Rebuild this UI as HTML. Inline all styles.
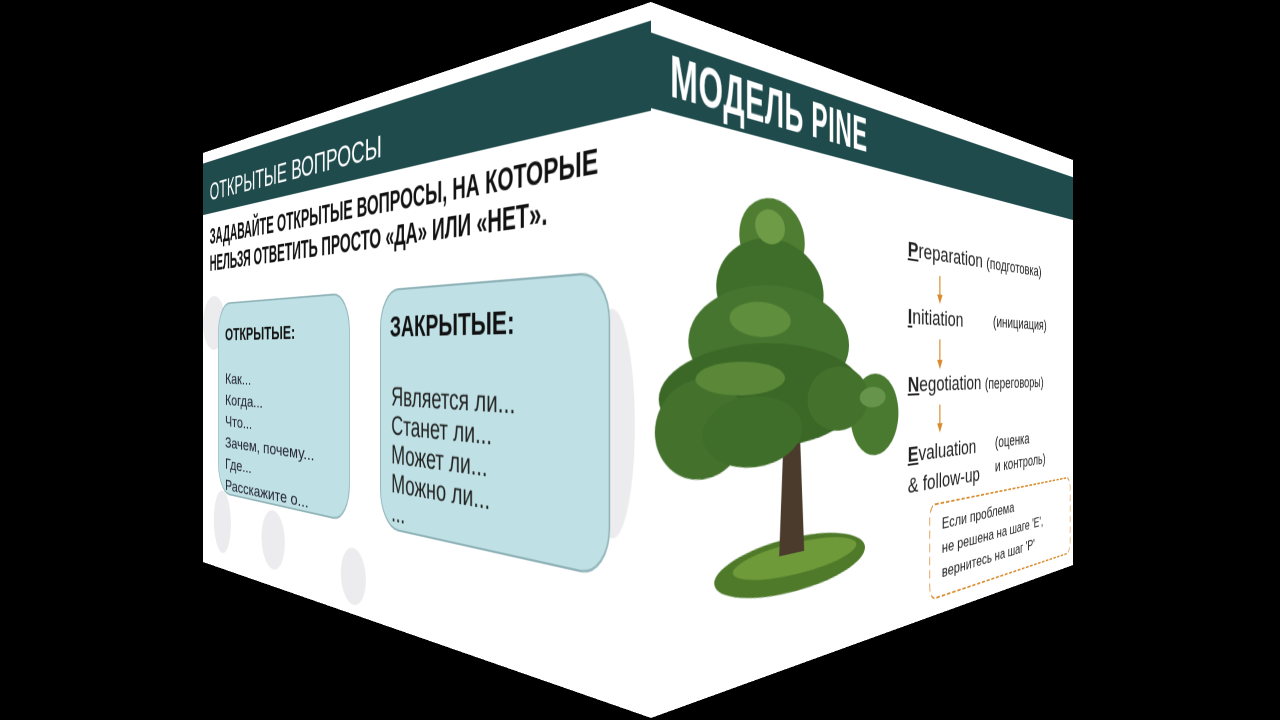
<!DOCTYPE html>
<html><head><meta charset="utf-8">
<style>
html,body{margin:0;padding:0;background:#000;width:1280px;height:720px;overflow:hidden}
.face{position:absolute;left:0;top:0;width:960px;height:540px;background:#fff;transform-origin:0 0;overflow:hidden;font-family:"Liberation Sans","DejaVu Sans",sans-serif;color:#111}
.band{position:absolute;left:0;width:960px;background:#1f4b4d}
.abs{position:absolute;white-space:nowrap;transform-origin:0 0}
.box{position:absolute;background:#bfe0e4;border:2px solid #8fb3b8;border-radius:30px}
.blob{position:absolute;border-radius:50%;background:#ececee}
</style></head><body>

<div class="face" id="L">
  <div class="blob" style="left:0;top:190px;width:80px;height:70px"></div>
  <div class="blob" style="left:40px;top:440px;width:60px;height:80px"></div>
  <div class="blob" style="left:200px;top:450px;width:70px;height:70px"></div>
  <div class="blob" style="left:420px;top:470px;width:60px;height:60px"></div>
  <div class="blob" style="left:880px;top:230px;width:60px;height:180px"></div>
  <div class="band" style="top:14px;height:68px"></div>
  <div class="abs" style="left:25px;top:36px;font-size:32px;color:#fff;transform:scaleX(1.38)">ОТКРЫТЫЕ ВОПРОСЫ</div>
  <div class="abs" style="left:25px;top:96px;font-size:29px;font-weight:bold;line-height:35px;transform:scaleX(1.18)">ЗАДАВАЙТЕ ОТКРЫТЫЕ ВОПРОСЫ, НА КОТОРЫЕ<br>НЕЛЬЗЯ ОТВЕТИТЬ ПРОСТО «ДА» ИЛИ «НЕТ».</div>
  <div class="box" style="left:55px;top:200px;width:383px;height:240px;border-radius:40px"></div>
  <div class="abs" style="left:80px;top:228px;font-size:22px;font-weight:bold;transform:scaleX(1.6)">ОТКРЫТЫЕ:</div>
  <div class="abs" style="left:80px;top:284px;font-size:19px;line-height:27px;color:#223;transform:scaleX(1.9)">Как...<br>Когда...<br>Что...<br>Зачем, почему...<br>Где...<br>Расскажите о...</div>
  <div class="box" style="left:512px;top:200px;width:392px;height:238px;border-radius:40px"></div>
  <div class="abs" style="left:534px;top:222px;font-size:30px;font-weight:bold;transform:scaleX(1.26)">ЗАКРЫТЫЕ:</div>
  <div class="abs" style="left:537px;top:294px;font-size:27px;line-height:29px;color:#222;transform:scaleX(1.3)">Является ли...<br>Станет ли...<br>Может ли...<br>Можно ли...<br>...</div>
</div>

<div class="face" id="R">
  <div class="band" style="top:23px;height:57px"></div>
  <div class="abs" style="left:25px;top:24px;font-size:46px;color:#fff;font-weight:bold;letter-spacing:1px">МОДЕЛЬ PINE</div>
  <svg class="abs" style="left:0;top:0" width="960" height="540">
    <ellipse cx="220" cy="450" rx="133" ry="24" fill="#4e7a2a"/>
    <ellipse cx="225" cy="445" rx="110" ry="14" fill="#6f9a3a"/>
    <polygon points="198,330 226,330 234,440 190,440" fill="#4a3b2c"/>
    <ellipse cx="180" cy="165" rx="55" ry="35" fill="#4f7d32"/>
    <ellipse cx="180" cy="210" rx="90" ry="45" fill="#3f6e2a"/>
    <ellipse cx="185" cy="255" rx="135" ry="50" fill="#467530"/>
    <ellipse cx="180" cy="300" rx="170" ry="45" fill="#3b6826"/>
    <ellipse cx="70" cy="325" rx="65" ry="40" fill="#44722c"/>
    <ellipse cx="150" cy="330" rx="80" ry="30" fill="#3f6e2a"/>
    <ellipse cx="375" cy="322" rx="52" ry="40" fill="#4a7a30"/>
    <ellipse cx="300" cy="305" rx="60" ry="30" fill="#44722c"/>
    <ellipse cx="175" cy="155" rx="25" ry="15" fill="#6e9b45"/>
    <ellipse cx="160" cy="235" rx="50" ry="15" fill="#5f8e3c"/>
    <ellipse cx="130" cy="285" rx="70" ry="14" fill="#5a8838"/>
    <ellipse cx="370" cy="305" rx="28" ry="10" fill="#66944a"/>
    <g stroke="#d98a2b" stroke-width="3" fill="#d98a2b">
      <line x1="529" y1="178" x2="529" y2="200"/><polygon points="522,198 536,198 529,208" stroke="none"/>
      <line x1="529" y1="246" x2="529" y2="270"/><polygon points="522,268 536,268 529,278" stroke="none"/>
      <line x1="529" y1="316" x2="529" y2="338"/><polygon points="522,336 536,336 529,346" stroke="none"/>
    </g>
    <rect x="503" y="422" width="445" height="100" rx="14" fill="none" stroke="#d98a2b" stroke-width="2" stroke-dasharray="9,5"/>
  </svg>
  <div class="abs" style="left:449px;top:142px;font-size:22px;color:#222;transform:scaleX(1.75)"><b><u>P</u></b>reparation <span style="font-size:18px">(подготовка)</span></div>
  <div class="abs" style="left:449px;top:211px;font-size:22px;color:#222;transform:scaleX(1.75)"><b><u>I</u></b>nitiation</div>
  <div class="abs" style="left:679px;top:213px;font-size:18px;color:#222;transform:scaleX(1.75)">(инициация)</div>
  <div class="abs" style="left:449px;top:281px;font-size:22px;color:#222;transform:scaleX(1.75)"><b><u>N</u></b>egotiation <span style="font-size:18px">(переговоры)</span></div>
  <div class="abs" style="left:449px;top:350px;font-size:22px;color:#222;line-height:32px;transform:scaleX(1.75)"><b><u>E</u></b>valuation<br>&amp; follow-up</div>
  <div class="abs" style="left:685px;top:350px;font-size:18px;color:#222;line-height:28px;transform:scaleX(1.75)">(оценка<br>и контроль)</div>
  <div class="abs" style="left:534px;top:432px;font-size:17px;color:#222;line-height:26px;transform:scaleX(1.75)">Если проблема<br>не решена на шаге 'E',<br>вернитесь на шаг 'P'</div>
</div>

<script>
function fit(id,q){
  var w=960,h=540;
  var x0=q[0][0],y0=q[0][1],x1=q[1][0],y1=q[1][1],x2=q[2][0],y2=q[2][1],x3=q[3][0],y3=q[3][1];
  var dx1=x1-x2,dx2=x3-x2,dx3=x0-x1+x2-x3,dy1=y1-y2,dy2=y3-y2,dy3=y0-y1+y2-y3;
  var den=dx1*dy2-dx2*dy1;
  var g=(dx3*dy2-dx2*dy3)/den, hh=(dx1*dy3-dx3*dy1)/den;
  var a=x1-x0+g*x1,b=x3-x0+hh*x3,c=x0,d=y1-y0+g*y1,e=y3-y0+hh*y3,f=y0;
  var m=[a/w,d/w,0,g/w, b/h,e/h,0,hh/h, 0,0,1,0, c,f,0,1];
  document.getElementById(id).style.transform='matrix3d('+m.join(',')+')';
}
fit('L',[[203,153],[651,2],[651,718],[203,562]]);
fit('R',[[651,2],[1073,160],[1073,565],[651,718]]);
</script>
</body></html>
